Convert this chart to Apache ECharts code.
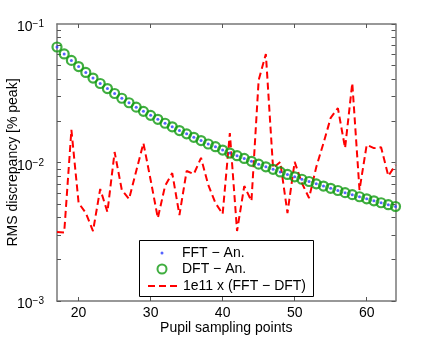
<!DOCTYPE html>
<html>
<head>
<meta charset="utf-8">
<script src="https://cdn.jsdelivr.net/npm/echarts@6/dist/echarts.min.js"></script>
<style>
  html, body { margin: 0; padding: 0; background: #fff; }
  #chart { width: 436px; height: 339px; }
</style>
</head>
<body>
<div id="chart"></div>
<script>
// ---------------- D A T A ---------------- //
const samplingPoints = [17, 18, 19, 20, 21, 22, 23, 24, 25, 26, 27, 28, 29, 30, 31, 32,
  33, 34, 35, 36, 37, 38, 39, 40, 41, 42, 43, 44, 45, 46, 47, 48,
  49, 50, 51, 52, 53, 54, 55, 56, 57, 58, 59, 60, 61, 62, 63, 64]

const fftAn = [0.0682, 0.0608, 0.0546, 0.0493, 0.0447, 0.0407, 0.0372, 0.0342,
  0.0315, 0.0291, 0.0270, 0.0251, 0.0234, 0.0219, 0.0205, 0.0192,
  0.0181, 0.0170, 0.0161, 0.0152, 0.0144, 0.0136, 0.0130, 0.0123,
  0.0117, 0.0112, 0.0107, 0.0102, 0.00973, 0.00931, 0.00892, 0.00855,
  0.00820, 0.00788, 0.00757, 0.00729, 0.00701, 0.00676, 0.00651, 0.00628,
  0.00606, 0.00586, 0.00566, 0.00547, 0.00529, 0.00512, 0.00496, 0.00481]

const dftAn = [0.0682, 0.0608, 0.0546, 0.0493, 0.0447, 0.0407, 0.0372, 0.0342,
  0.0315, 0.0291, 0.0270, 0.0251, 0.0234, 0.0219, 0.0205, 0.0192,
  0.0181, 0.0170, 0.0161, 0.0152, 0.0144, 0.0136, 0.0130, 0.0123,
  0.0117, 0.0112, 0.0107, 0.0102, 0.00973, 0.00931, 0.00892, 0.00855,
  0.00820, 0.00788, 0.00757, 0.00729, 0.00701, 0.00676, 0.00651, 0.00628,
  0.00606, 0.00586, 0.00566, 0.00547, 0.00529, 0.00512, 0.00496, 0.00481]

// 1e11 x (FFT - DFT)
const scaledDiff = [0.00315, 0.00312, 0.0172, 0.0051, 0.00432, 0.0032, 0.00644, 0.00439,
  0.0119, 0.00633, 0.00545, 0.00868, 0.0138, 0.00748, 0.00397, 0.00676,
  0.00839, 0.00418, 0.00868, 0.00826, 0.0108, 0.00688, 0.0051, 0.00425,
  0.0163, 0.0032, 0.00676, 0.00527, 0.0394, 0.0607, 0.00912, 0.0101,
  0.00432, 0.0101, 0.00711, 0.00554, 0.00928, 0.0138, 0.0210, 0.0247,
  0.0127, 0.0375, 0.00633, 0.0134, 0.0127, 0.0129, 0.0080, 0.0096]

const xTicks = [20, 30, 40, 50, 60]
const yTicks = [0.001, 0.002, 0.003, 0.004, 0.005, 0.006, 0.007, 0.008, 0.009,
  0.01, 0.02, 0.03, 0.04, 0.05, 0.06, 0.07, 0.08, 0.09, 0.1]

const seriesNames = ['FFT − An.', 'DFT − An.', '1e11 x (FFT − DFT)']

// -------------- S T Y L E -------------- //
const FONT = 'Liberation Sans'
const AXIS_CLR = '#777'
const pairs = (ys) => samplingPoints.map((x, i) => [x, ys[i]])

const axisLine = { show: true, onZero: false, lineStyle: { color: AXIS_CLR, width: 1.5 } }
const tick = (vals) => ({ show: true, inside: true, length: 4, customValues: vals,
  lineStyle: { color: '#555', width: 1 } })

const supLabel = (v) => {
  const e = Math.round(Math.log10(v))
  return '{b|10}{e|−' + (-e) + '}'
}

const legendBase = {
  orient: 'vertical',
  padding: 0,
  itemWidth: 30,
  textStyle: { fontFamily: FONT, fontSize: 14, color: '#000' },
  selectedMode: false
}

const option = {
  animation: false,
  backgroundColor: '#fff',
  grid: { left: 57, right: 40.5, top: 24, bottom: 38, outerBoundsMode: 'none' },
  xAxis: [
    {
      type: 'value', min: 17, max: 64, position: 'bottom',
      name: 'Pupil sampling points', nameLocation: 'middle', nameGap: 20,
      nameMoveOverlap: false,
      nameTextStyle: { fontFamily: FONT, fontSize: 14, color: '#000' },
      axisLine,
      axisTick: tick(xTicks),
      axisLabel: { customValues: xTicks, margin: 5, fontFamily: FONT, fontSize: 14, color: '#000' },
      splitLine: { show: false }
    },
    {
      type: 'value', min: 17, max: 64, position: 'top',
      axisLine,
      axisTick: tick(xTicks),
      axisLabel: { show: false },
      splitLine: { show: false }
    }
  ],
  yAxis: [
    {
      type: 'log', logBase: 10, min: 0.001, max: 0.1, position: 'left',
      name: 'RMS discrepancy [% peak]', nameLocation: 'middle', nameGap: 37,
      nameMoveOverlap: false,
      nameTextStyle: { fontFamily: FONT, fontSize: 14, color: '#000' },
      axisLine,
      axisTick: tick(yTicks),
      axisLabel: {
        margin: 13, padding: [7, 0, 0, 0], formatter: supLabel,
        rich: {
          b: { fontFamily: FONT, fontSize: 14, lineHeight: 16, color: '#000' },
          e: { fontFamily: FONT, fontSize: 10, lineHeight: 10, verticalAlign: 'top', color: '#000' }
        }
      },
      splitLine: { show: false }
    },
    {
      type: 'log', logBase: 10, min: 0.001, max: 0.1, position: 'right',
      axisLine,
      axisTick: tick(yTicks),
      axisLabel: { show: false },
      splitLine: { show: false }
    }
  ],
  legend: [
    Object.assign({}, legendBase, { left: 160.5, top: 246, itemHeight: 3, data: [seriesNames[0]] }),
    Object.assign({}, legendBase, { left: 156.5, top: 262, itemHeight: 9, data: [seriesNames[1]] }),
    Object.assign({}, legendBase, {
      left: 147, top: 279, itemHeight: 14,
      itemStyle: { color: 'rgba(0,0,0,0)', borderWidth: 0 },
      data: [seriesNames[2]]
    })
  ],
  graphic: [
    {
      type: 'rect', z: 3,
      shape: { x: 139.5, y: 240.5, width: 174, height: 56 },
      style: { fill: '#fff', stroke: '#000', lineWidth: 1 }
    }
  ],
  series: [
    {
      name: seriesNames[2], type: 'line', data: pairs(scaledDiff),
      symbol: 'none', z: 2,
      lineStyle: { color: '#ff0000', width: 2, type: [7, 4] },
      itemStyle: { color: '#ff0000' }
    },
    {
      name: seriesNames[1], type: 'scatter', data: pairs(dftAn),
      symbol: 'circle', symbolSize: 9, z: 3,
      itemStyle: { color: 'rgba(0,0,0,0)', borderColor: '#109a10', borderWidth: 2.2 }
    },
    {
      name: seriesNames[0], type: 'scatter', data: pairs(fftAn),
      symbol: 'circle', symbolSize: 3, z: 4,
      itemStyle: { color: '#2a3cff' }
    }
  ]
}

const myChart = echarts.init(document.getElementById('chart'), null, { renderer: 'canvas' })
myChart.setOption(option)
</script>
</body>
</html>
